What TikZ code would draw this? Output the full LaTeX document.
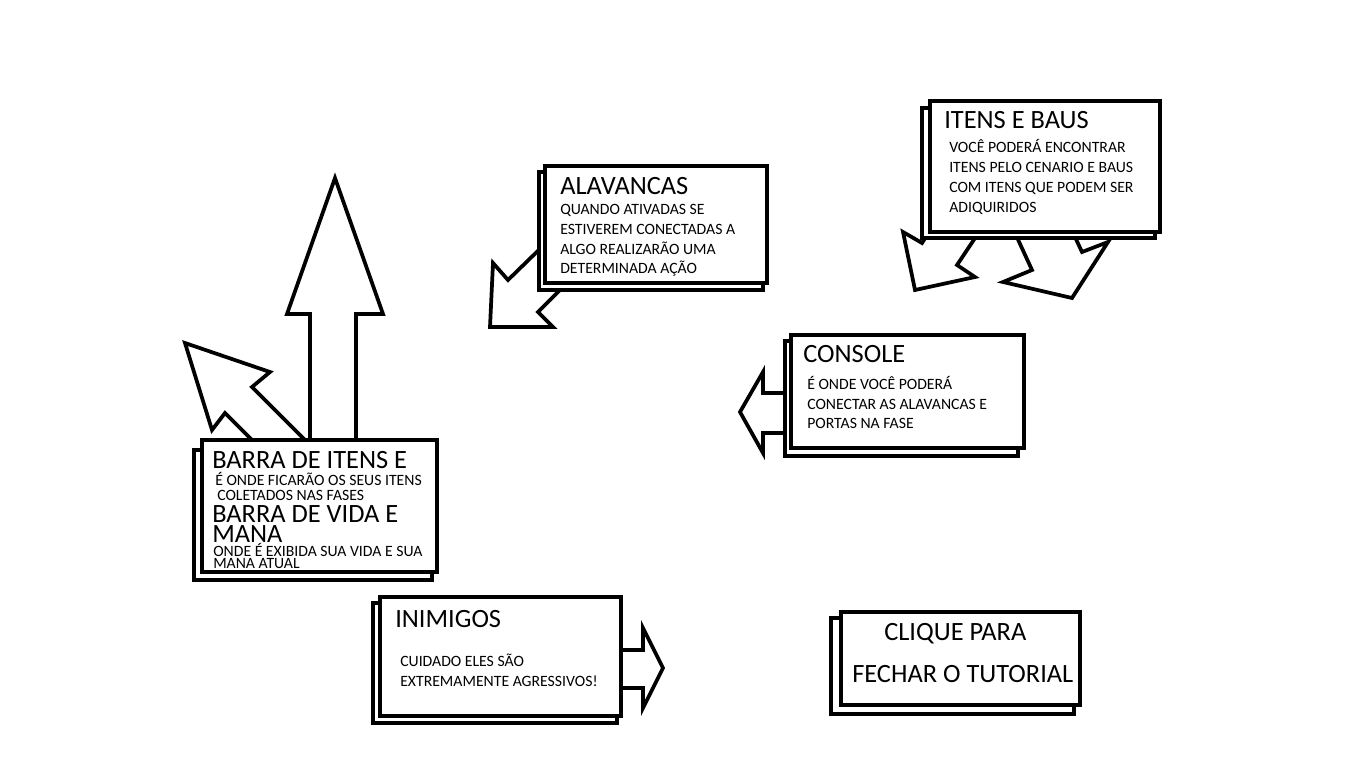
\documentclass[tikz,border=0pt]{standalone}
\usepackage{fontspec}
\setmainfont{Carlito}
\tikzset{
  frontbox/.style={draw=black, line width=3.4pt, fill=white},
  backbox/.style={draw=black, line width=3pt, fill=white},
  blockarrow/.style={draw=black, line width=2.8pt, fill=white, line join=miter, miter limit=20},
  ttl/.style={anchor=base west, inner sep=0pt, font=\fontsize{19.8}{22}\selectfont},
  bdy/.style={anchor=base west, inner sep=0pt, font=\fontsize{11.8}{14}\selectfont},
}
\begin{document}
\begin{tikzpicture}[x=0.75pt,y=-0.75pt]
\useasboundingbox[fill=white] (0,0) rectangle (1366,768);

% ---- block arrows (behind the boxes)
% up arrow
\draw[blockarrow] (310,450) -- (310,314) -- (287,314) -- (335,178) -- (383,314) -- (356,314) -- (356,450) -- cycle;
% up-left arrow
\draw[blockarrow] (320,455) -- (252,387) -- (270,372) -- (185,343) -- (212,430) -- (225,413) -- (267,455) -- cycle;
% alavancas arrow
\draw[blockarrow] (548,241) -- (508,280) -- (493,263) -- (490,327) -- (553,327) -- (538,312) -- (578,272) -- cycle;
% itens arrows
\draw[blockarrow] (937,220) -- (922,243) -- (903,232) -- (915,290) -- (975,277) -- (957,265) -- (987,220) -- cycle;
\draw[blockarrow] (1009,220) -- (1032,270) -- (1003,282) -- (1072,298) -- (1108,242) -- (1082,252) -- (1067,220) -- cycle;
% console arrow
\draw[blockarrow] (795,393) -- (763,393) -- (763,372) -- (740,412) -- (763,453) -- (763,433) -- (795,433) -- cycle;
% inimigos arrow
\draw[blockarrow] (610,650) -- (643,650) -- (643,628) -- (663,668) -- (643,708) -- (643,688) -- (610,688) -- cycle;

% ---- boxes
% alavancas
\draw[backbox] (539,172) rectangle (763,290);
\draw[frontbox] (545,166) rectangle (767,283);
% itens e baus
\draw[backbox] (922,108) rectangle (1155,238);
\draw[frontbox] (930,101) rectangle (1160,232);
% console
\draw[backbox] (785,341) rectangle (1018,456);
\draw[frontbox] (791,335) rectangle (1024,448);
% barra
\draw[backbox] (194,450) rectangle (432,580);
\draw[frontbox] (202,440) rectangle (437,572);
% inimigos
\draw[backbox] (373,603) rectangle (617,723);
\draw[frontbox] (380,597) rectangle (621,716);
% clique
\draw[backbox] (831,618) rectangle (1074,714);
\draw[frontbox] (841,612) rectangle (1080,705);

% ---- texts
\node[ttl] (alT) at (560,194) {ALAVANCAS};
\node[bdy] (al1) at (560,214) {QUANDO ATIVADAS SE};
\node[bdy] (al2) at (560,234) {ESTIVEREM CONECTADAS A};
\node[bdy] (al3) at (560,254) {ALGO REALIZARÃO UMA};
\node[bdy] (al4) at (560,273) {DETERMINADA AÇÃO};

\node[ttl] (itT) at (944,128) {ITENS E BAUS};
\node[bdy] (it1) at (949,152.5) {VOCÊ PODERÁ ENCONTRAR};
\node[bdy] (it2) at (949,172.5) {ITENS PELO CENARIO E BAUS};
\node[bdy] (it3) at (949,192) {COM ITENS QUE PODEM SER};
\node[bdy] (it4) at (949,212) {ADIQUIRIDOS};

\node[ttl] (coT) at (803,362) {CONSOLE};
\node[bdy] (co1) at (807,389) {É ONDE VOCÊ PODERÁ};
\node[bdy] (co2) at (807,409) {CONECTAR AS ALAVANCAS E};
\node[bdy] (co3) at (807,428) {PORTAS NA FASE};

\node[ttl] (ba1) at (212,468) {BARRA DE ITENS E};
\node[bdy] (ba2) at (215,485) {É ONDE FICARÃO OS SEUS ITENS};
\node[bdy] (ba3) at (217,500) {COLETADOS NAS FASES};
\node[ttl] (ba4) at (212,522) {BARRA DE VIDA E};
\node[ttl] (ba5) at (212,542) {MANA};
\node[bdy] (ba6) at (213,556) {ONDE É EXIBIDA SUA VIDA E SUA};
\node[bdy] (ba7) at (213,568) {MANA ATUAL};

\node[ttl] (inT) at (395,627) {INIMIGOS};
\node[bdy] (in1) at (400,666) {CUIDADO ELES SÃO};
\node[bdy] (in2) at (400,686) {EXTREMAMENTE AGRESSIVOS!};

\node[ttl] (cl1) at (884,640) {CLIQUE PARA};
\node[ttl] (cl2) at (852,682) {FECHAR O TUTORIAL};
\end{tikzpicture}
\end{document}
